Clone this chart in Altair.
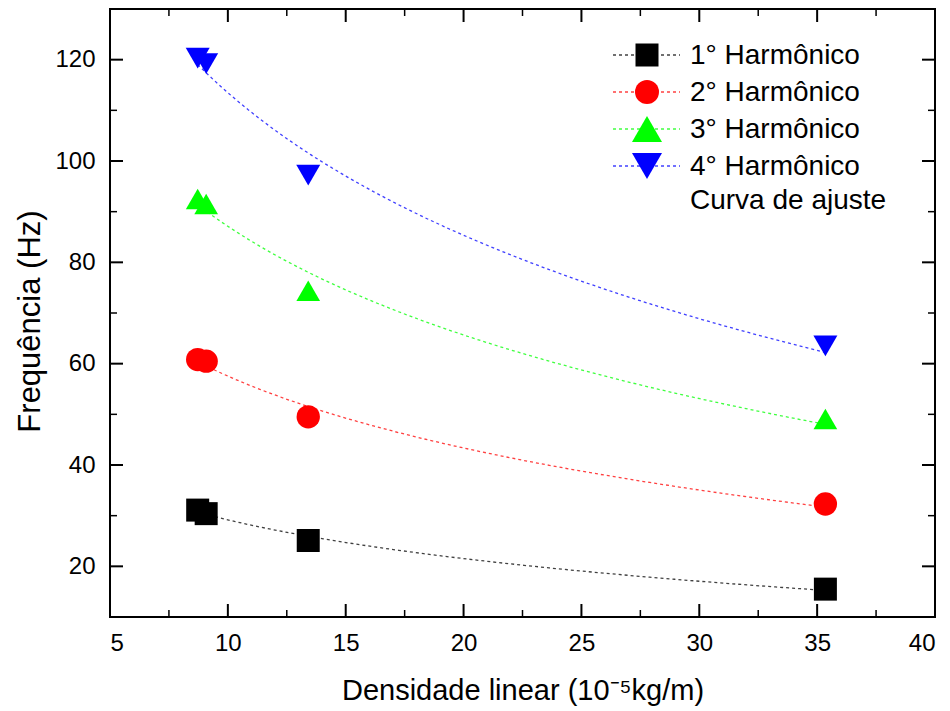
import altair as alt
import pandas as pd

# ---------------- data ----------------
series = ["1° Harmônico", "2° Harmônico", "3° Harmônico", "4° Harmônico"]
densidade = [8.72, 9.08, 13.41, 35.35]          # 10^-5 kg/m
freq_h1 = [31.1, 30.4, 25.1, 15.5]
freq_h2 = [60.8, 60.5, 49.5, 32.3]
freq_h3 = [92.5, 91.5, 74.4, 49.1]
freq_h4 = [120.3, 119.2, 97.2, 63.5]
fit_label = "Curva de ajuste"

x_major = [5, 10, 15, 20, 25, 30, 35, 40]
x_minor = [7.5, 12.5, 17.5, 22.5, 27.5, 32.5, 37.5]
y_major = [20, 40, 60, 80, 100, 120]
y_minor = [30, 50, 70, 90, 110]

# ---------------- styling ----------------
colors = ["#000000", "#ff0000", "#00ff00", "#0000ff"]
shapes = ["square", "circle", "triangle-up", "triangle-down"]
sizes = [529, 576, 900, 900]
FONT = "Liberation Sans"
W, H = 825, 608

rows = []
for s, vals in zip(series, [freq_h1, freq_h2, freq_h3, freq_h4]):
    for d, f in zip(densidade, vals):
        rows.append({"serie": s, "mu": d, "f": f})
df = pd.DataFrame(rows)

xscale = alt.Scale(domain=[5, 40], nice=False, zero=False)
yscale = alt.Scale(domain=[10, 130], nice=False, zero=False)
cscale = alt.Scale(domain=series, range=colors)
sscale = alt.Scale(domain=series, range=shapes)
zscale = alt.Scale(domain=series, range=sizes)

xaxis = alt.Axis(values=x_major, ticks=False, domain=False, grid=False,
                 labelFontSize=24, labelPadding=14, labelFont=FONT, labelColor="#000",
                 title="Densidade linear (10⁻⁵kg/m)", titleFont=FONT, titleFontSize=29,
                 titleFontWeight="normal", titleColor="#000",
                 titleY=82, titleBaseline="alphabetic")
yaxis = alt.Axis(values=y_major, ticks=False, domain=False, grid=False,
                 labelFontSize=24, labelPadding=15, labelFont=FONT, labelColor="#000",
                 title="Frequência (Hz)", titleFont=FONT, titleFontSize=31,
                 titleFontWeight="normal", titleColor="#000",
                 titleX=-71, titleY=H / 2 + 8, titleAngle=-90, titleAlign="center",
                 titleBaseline="alphabetic")

base = alt.Chart(df)

curves = base.transform_regression(
    "mu", "f", groupby=["serie"], method="log"
).mark_line(strokeDash=[3, 3], strokeWidth=1.3, opacity=0.75).encode(
    x=alt.X("mu:Q", scale=xscale, axis=xaxis),
    y=alt.Y("f:Q", scale=yscale, axis=yaxis),
    color=alt.Color("serie:N", scale=cscale, legend=None),
    detail="serie:N",
)

points = base.mark_point(filled=True, opacity=1, strokeWidth=0).encode(
    x=alt.X("mu:Q", scale=xscale),
    y=alt.Y("f:Q", scale=yscale),
    color=alt.Color("serie:N", scale=cscale, legend=None),
    shape=alt.Shape("serie:N", scale=sscale, legend=None),
    size=alt.Size("serie:N", scale=zscale, legend=None),
)

# inward ticks on all four sides
def xticks(vals, length, width):
    d = alt.Chart(pd.DataFrame({"v": vals}))
    bot = d.mark_rule(color="#000", strokeWidth=width).encode(
        x=alt.X("v:Q", scale=xscale), y=alt.value(H), y2=alt.value(H - length))
    top = d.mark_rule(color="#000", strokeWidth=width).encode(
        x=alt.X("v:Q", scale=xscale), y=alt.value(0), y2=alt.value(length))
    return [bot, top]

def yticks(vals, length, width):
    d = alt.Chart(pd.DataFrame({"v": vals}))
    left = d.mark_rule(color="#000", strokeWidth=width).encode(
        y=alt.Y("v:Q", scale=yscale), x=alt.value(0), x2=alt.value(length))
    right = d.mark_rule(color="#000", strokeWidth=width).encode(
        y=alt.Y("v:Q", scale=yscale), x=alt.value(W), x2=alt.value(W - length))
    return [left, right]

ticks = (xticks(x_major, 13, 2) + xticks(x_minor, 7, 1.5)
         + yticks(y_major, 13, 2) + yticks(y_minor, 7, 1.5))

# manual legend (top right, inside the frame)
LX, LY0, LDY = 537, 46, 37
LFS = 28
legend_layers = []
for i, s in enumerate(series):
    ly = LY0 + LDY * i
    d = alt.Chart(pd.DataFrame({"label": [s]}))
    legend_layers.append(d.mark_rule(strokeDash=[3, 3], strokeWidth=1.3, opacity=0.75,
                                     color=colors[i]).encode(
        x=alt.value(LX - 34), x2=alt.value(LX + 33), y=alt.value(ly), y2=alt.value(ly)))
    legend_layers.append(d.mark_point(filled=True, opacity=1, strokeWidth=0,
                                      shape=shapes[i], size=sizes[i], color=colors[i]).encode(
        x=alt.value(LX), y=alt.value(ly)))
    legend_layers.append(d.mark_text(align="left", baseline="middle", font=FONT, fontSize=LFS,
                                     color="#000").encode(
        x=alt.value(LX + 43), y=alt.value(ly + 1), text="label:N"))
dfit = alt.Chart(pd.DataFrame({"label": [fit_label]}))
legend_layers.append(dfit.mark_text(align="left", baseline="middle", font=FONT, fontSize=LFS,
                                    color="#000").encode(
    x=alt.value(LX + 43), y=alt.value(LY0 + LDY * 4 - 2), text="label:N"))

chart = alt.layer(curves, points, *ticks, *legend_layers).properties(
    width=W, height=H,
    autosize=alt.AutoSizeParams(type="none"),
    padding={"left": 110, "top": 9, "right": 15, "bottom": 94},
    background="white",
).configure_view(stroke="#000", strokeWidth=2)

chart.save("out.html", embed_options={"renderer": "svg", "actions": False})
